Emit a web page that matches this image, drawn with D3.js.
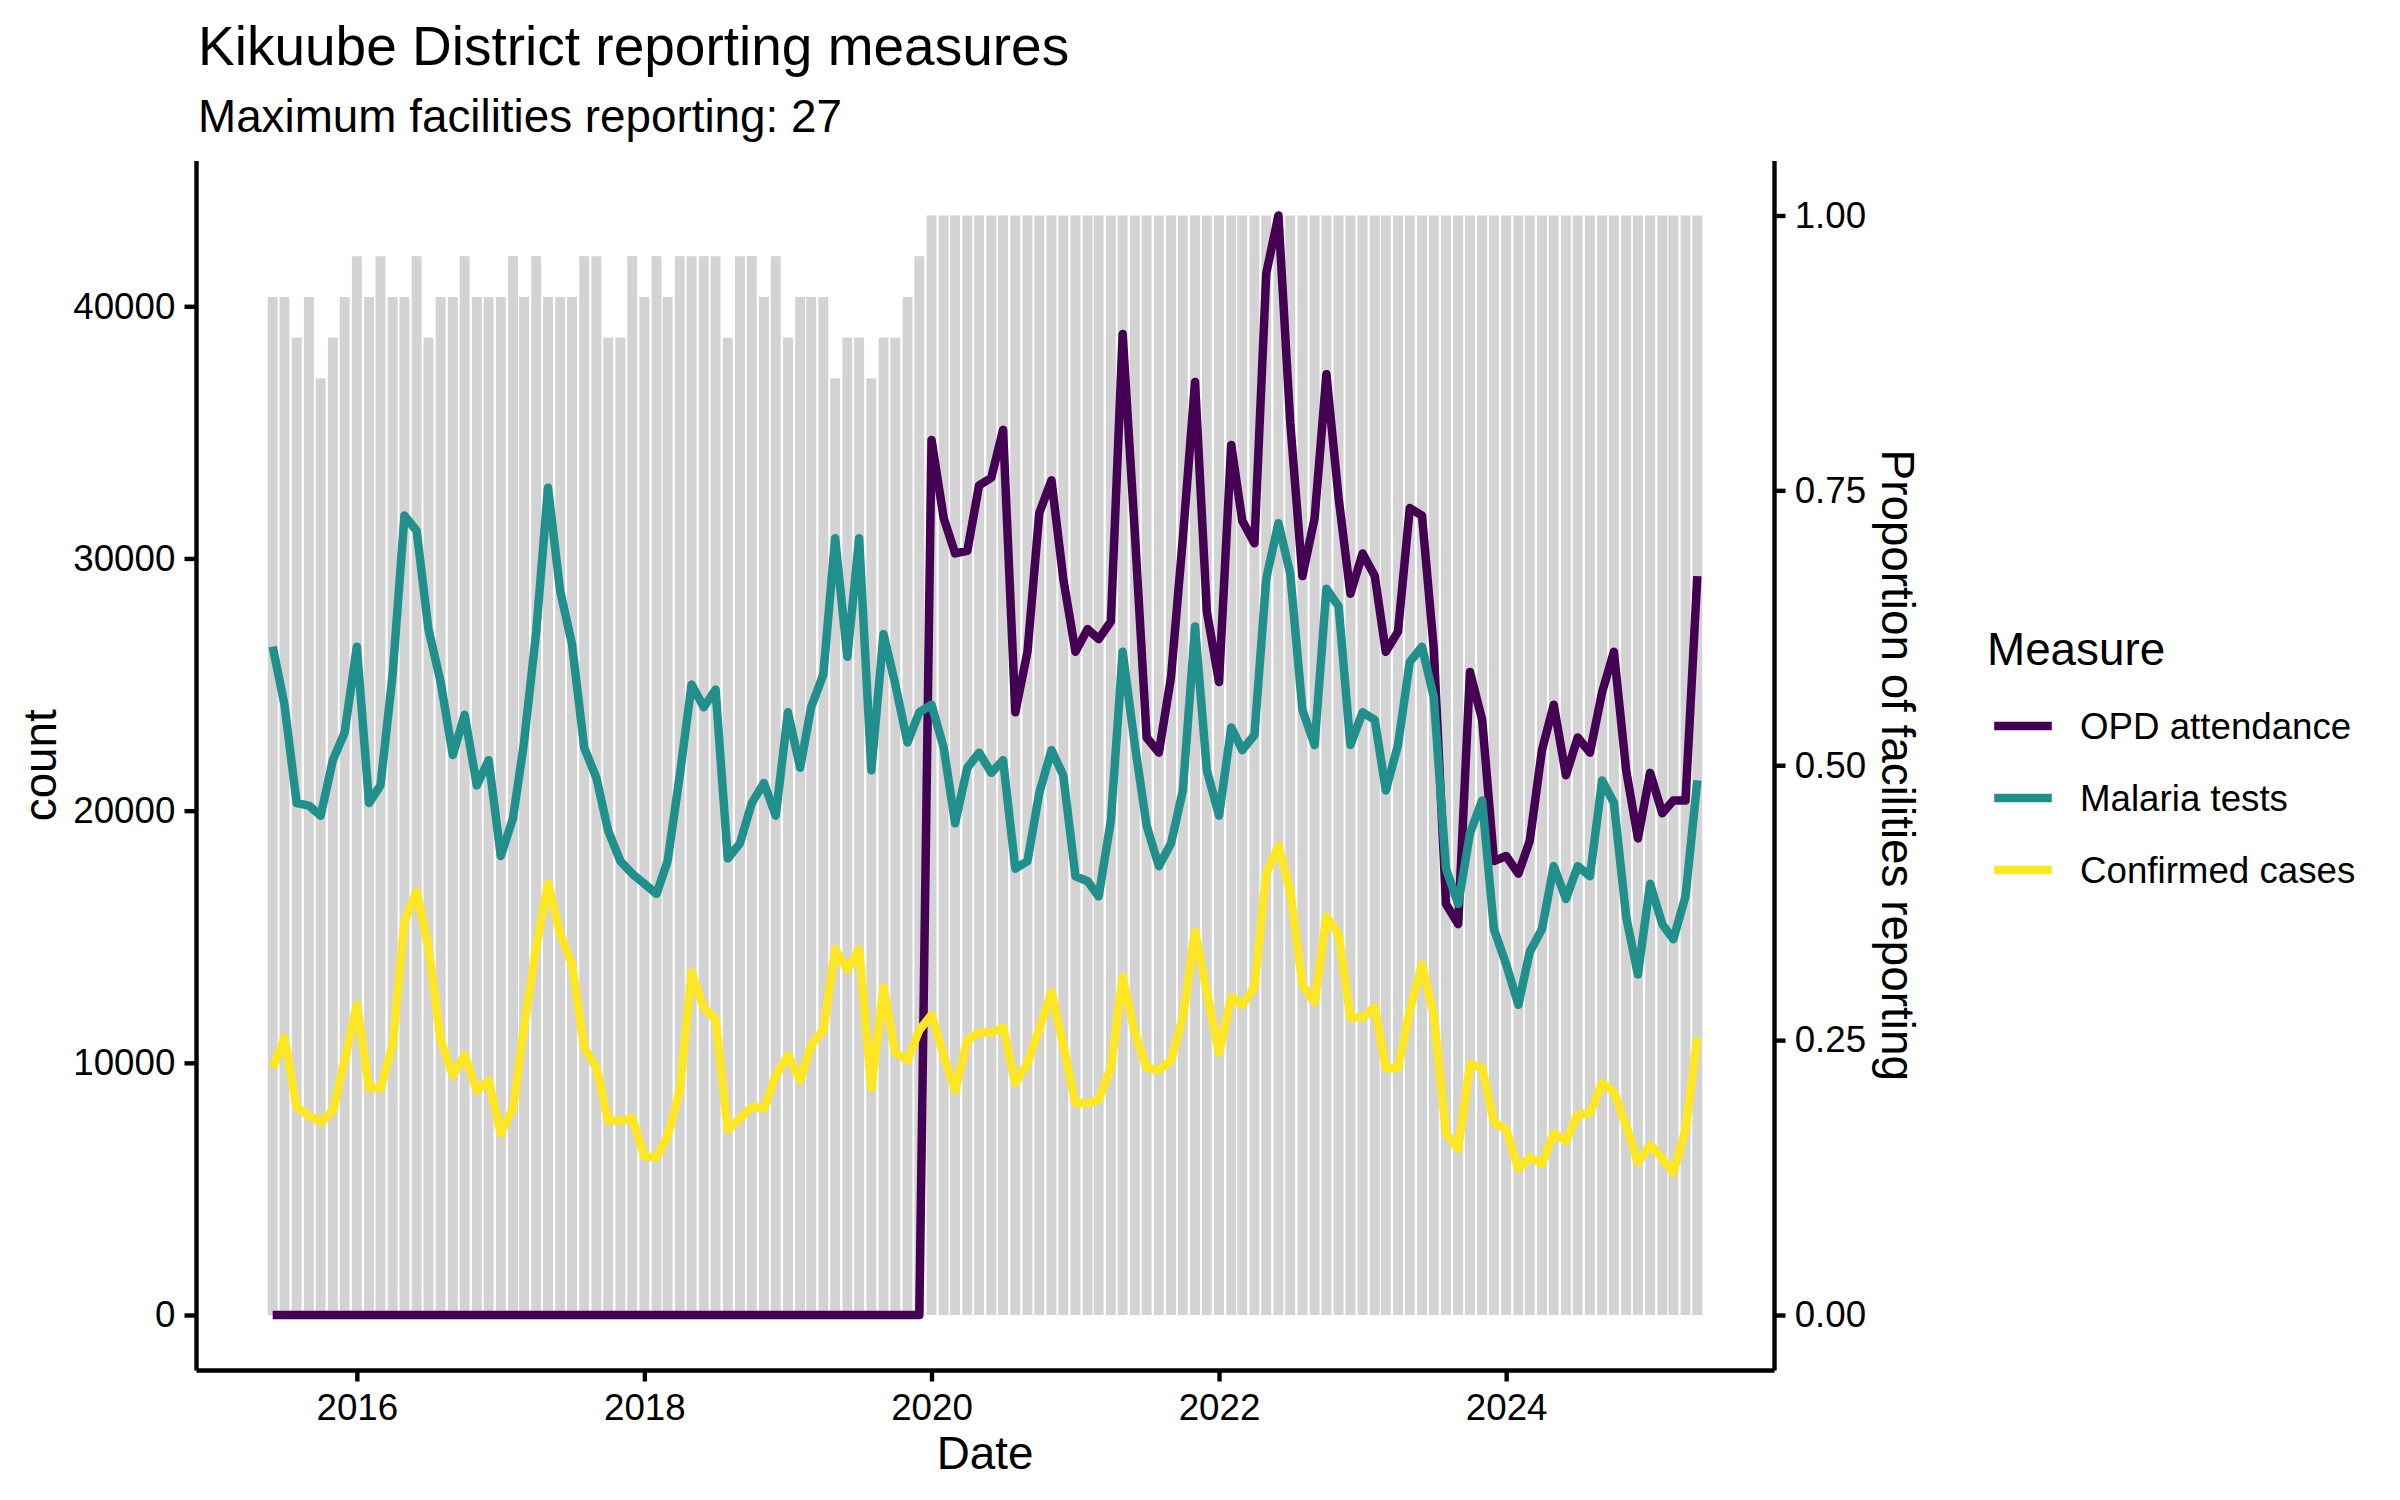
<!DOCTYPE html>
<html>
<head>
<meta charset="utf-8">
<script src="https://cdn.jsdelivr.net/npm/d3@7"></script>
<style>
  body { margin: 0; background: #fff; }
  svg { display: block; font-family: "Liberation Sans", Arial, Helvetica, sans-serif; }
</style>
</head>
<body>
<svg id="chart" width="2400" height="1500"></svg>
<script>
// monthly values, first month June 2015
const firstMonth = "2015-06";
const maxFacilities = 27;

const facilitiesReporting = [
  25, 25, 24, 25, 23, 24, 25, 26, 25, 26, 25, 25, 26, 24, 25, 25, 26, 25, 25, 25,
  26, 25, 26, 25, 25, 25, 26, 26, 24, 24, 26, 25, 26, 25, 26, 26, 26, 26, 24, 26,
  26, 25, 26, 24, 25, 25, 25, 23, 24, 24, 23, 24, 24, 25, 26, 27, 27, 27, 27, 27,
  27, 27, 27, 27, 27, 27, 27, 27, 27, 27, 27, 27, 27, 27, 27, 27, 27, 27, 27, 27,
  27, 27, 27, 27, 27, 27, 27, 27, 27, 27, 27, 27, 27, 27, 27, 27, 27, 27, 27, 27,
  27, 27, 27, 27, 27, 27, 27, 27, 27, 27, 27, 27, 27, 27, 27, 27, 27, 27, 27, 27
];

const opdAttendance = [
  0, 0, 0, 0, 0, 0, 0, 0, 0, 0, 0, 0, 0, 0, 0, 0, 0, 0, 0, 0,
  0, 0, 0, 0, 0, 0, 0, 0, 0, 0, 0, 0, 0, 0, 0, 0, 0, 0, 0, 0,
  0, 0, 0, 0, 0, 0, 0, 0, 0, 0, 0, 0, 0, 0, 0,
  34700, 31600, 30200, 30300, 32900, 33200, 35100, 23900, 26300, 31800,
  33100, 29200, 26300, 27200, 26800, 27500, 38900, 31000, 22900, 22300,
  25300, 30800, 37000, 27900, 25100, 34500, 31500, 30600, 41300, 43600,
  35400, 29300, 31600, 37300, 32400, 28600, 30200, 29300, 26300, 27100,
  32000, 31700, 26400, 16300, 15500, 25500, 23600, 18000, 18200, 17500,
  18800, 22400, 24200, 21400, 22900, 22300, 24700, 26300, 21600, 18900,
  21500, 19900, 20400, 20400, 29300
];

const malariaTests = [
  26500, 24200, 20300, 20200, 19800, 22000, 23100, 26500, 20300, 21000,
  25400, 31700, 31100, 27200, 25100, 22200, 23800, 21000, 22000, 18200,
  19700, 22700, 27100, 32800, 28700, 26600, 22500, 21300, 19200, 18000,
  17500, 17100, 16700, 18000, 21400, 25000, 24100, 24800, 18100, 18700,
  20300, 21100, 19800, 23900, 21700, 24100, 25400, 30800, 26100, 30800,
  21600, 27000, 25000, 22700, 23900, 24200, 22500, 19500, 21700, 22300,
  21500, 22000, 17700, 18000, 20700, 22400, 21400, 17400, 17200, 16600,
  19600, 26300, 22600, 19400, 17800, 18700, 20800, 27300, 21600, 19800,
  23300, 22400, 23000, 29200, 31400, 29400, 24000, 22600, 28800, 28100,
  22600, 23900, 23600, 20800, 22600, 25900, 26500, 24500, 17700, 16300,
  19100, 20400, 15300, 13900, 12300, 14400, 15300, 17800, 16500, 17800,
  17400, 21200, 20300, 15800, 13500, 17100, 15500, 14900, 16600, 21200
];

const confirmedCases = [
  9800, 11000, 8250, 7900, 7650, 8100, 10100, 12300, 9000, 9000,
  10700, 15600, 16800, 14600, 10900, 9500, 10300, 8900, 9300, 7200,
  8200, 11400, 14600, 17100, 15100, 13900, 10600, 9800, 7700, 7700,
  7800, 6300, 6250, 7100, 8900, 13600, 12200, 11700, 7350, 7800,
  8250, 8200, 9500, 10300, 9300, 10700, 11300, 14500, 13700, 14500,
  9000, 13000, 10400, 10100, 11300, 11900, 10300, 8900, 10900, 11200,
  11200, 11400, 9200, 10000, 11350, 12800, 10700, 8400, 8400, 8550,
  9800, 13400, 11200, 9800, 9700, 10100, 11800, 15200, 12800, 10400,
  12600, 12300, 13000, 17500, 18600, 16800, 13100, 12400, 15800, 15100,
  11800, 11800, 12200, 9800, 9800, 12100, 13900, 11900, 7200, 6600,
  9950, 9800, 7650, 7350, 5800, 6250, 6000, 7200, 6900, 7950,
  8000, 9200, 8850, 7500, 6050, 6750, 6200, 5650, 7350, 11000
];

const measures = ["OPD attendance", "Malaria tests", "Confirmed cases"];
const measureColours = ["#440154", "#21908C", "#FDE725"];
const countTicks = [0, 10000, 20000, 30000, 40000];
const proportionTicks = [0, 0.25, 0.5, 0.75, 1];
const yearTicks = [2016, 2018, 2020, 2022, 2024];

const series = [opdAttendance, malariaTests, confirmedCases];

const svg = d3.select("#chart");
const font = "'Liberation Sans', Arial, Helvetica, sans-serif";

// panel box (px)
const panel = { left: 196, right: 1774, top: 160.5, bottom: 1370 };
const lineW = 4.4;

const start = d3.utcParse("%Y-%m")(firstMonth);
const months = d3.utcMonth.range(start, d3.utcMonth.offset(start, opdAttendance.length));

// bars are 0.9 * 28 days wide, scale expanded by 5% each side like ggplot
const halfBar = 12.6 * 864e5;
const lo = +months[0] - halfBar;
const hi = +months[months.length - 1] + halfBar;
const pad = (hi - lo) * 0.05;
const x = d3.scaleUtc()
  .domain([new Date(lo - pad), new Date(hi + pad)])
  .range([panel.left, panel.right]);

const maxCount = d3.max(series.flat());
const y = d3.scaleLinear()
  .domain([-0.05 * maxCount, 1.05 * maxCount])
  .range([panel.bottom, panel.top]);
const yProp = d3.scaleLinear()
  .domain(y.domain().map(v => v / maxCount))
  .range(y.range());

// facility bars
const barW = x(new Date(+months[0] + halfBar)) - x(months[0]);
svg.append("g")
  .selectAll("rect")
  .data(months)
  .join("rect")
  .attr("x", d => x(d) - barW)
  .attr("width", barW * 2)
  .attr("y", (d, i) => y(facilitiesReporting[i] / maxFacilities * maxCount))
  .attr("height", (d, i) => y(0) - y(facilitiesReporting[i] / maxFacilities * maxCount))
  .attr("fill", "#D3D3D3");

// measure lines
const line = d3.line()
  .x((d, i) => x(months[i]))
  .y(d => y(d));

svg.append("g")
  .selectAll("path")
  .data(series)
  .join("path")
  .attr("d", d => line(d))
  .attr("fill", "none")
  .attr("stroke", (d, i) => measureColours[i])
  .attr("stroke-width", 8.5)
  .attr("stroke-linejoin", "round")
  .attr("stroke-linecap", "butt");

// axes
const styleAxis = g => {
  g.selectAll("path, line").attr("stroke", "#000").attr("stroke-width", lineW);
  g.selectAll("text").attr("font-size", 36.7).attr("font-family", font).attr("fill", "#000");
};

svg.append("g")
  .attr("transform", `translate(${panel.left},0)`)
  .call(d3.axisLeft(y).tickValues(countTicks).tickFormat(d3.format("d"))
    .tickSize(11.5).tickSizeOuter(0).tickPadding(9.2))
  .call(styleAxis);

svg.append("g")
  .attr("transform", `translate(${panel.right},0)`)
  .call(d3.axisRight(yProp).tickValues(proportionTicks).tickFormat(d3.format(".2f"))
    .tickSize(11.5).tickSizeOuter(0).tickPadding(9.2))
  .call(styleAxis);

svg.append("g")
  .attr("transform", `translate(0,${panel.bottom})`)
  .call(d3.axisBottom(x).tickValues(yearTicks.map(yr => new Date(Date.UTC(yr, 0, 1))))
    .tickFormat(d3.utcFormat("%Y")).tickSize(11.5).tickSizeOuter(0).tickPadding(12))
  .call(styleAxis);

// titles
const addText = (txt, px, py, size, anchor, rotate) => {
  const t = svg.append("text")
    .attr("font-family", font)
    .attr("font-size", size)
    .attr("fill", "#000")
    .attr("text-anchor", anchor)
    .text(txt);
  if (rotate) t.attr("transform", `translate(${px},${py}) rotate(${rotate})`);
  else t.attr("x", px).attr("y", py);
  return t;
};

addText("Kikuube District reporting measures", panel.left + 2, 65, 55, "start");
addText("Maximum facilities reporting: " + maxFacilities, panel.left + 2, 132, 45.8, "start");
addText("Date", (panel.left + panel.right) / 2, 1469, 45.8, "middle");
addText("count", 56, (panel.top + panel.bottom) / 2, 45.8, "middle", -90);
addText("Proportion of facilities reporting", 1882, (panel.top + panel.bottom) / 2, 45.8, "middle", 90);

// legend
const legend = svg.append("g").attr("transform", "translate(1987,0)");
legend.append("text")
  .attr("x", 0).attr("y", 665)
  .attr("font-family", font).attr("font-size", 45.8).attr("fill", "#000")
  .text("Measure");

const rows = legend.selectAll(".key")
  .data(measures)
  .join("g")
  .attr("class", "key")
  .attr("transform", (d, i) => `translate(0,${726 + i * 72})`);

rows.append("line")
  .attr("x1", 7.2).attr("x2", 64.8)
  .attr("stroke", (d, i) => measureColours[i])
  .attr("stroke-width", 8.5);

rows.append("text")
  .attr("x", 93)
  .attr("dy", "0.36em")
  .attr("font-family", font).attr("font-size", 36.7).attr("fill", "#000")
  .text(d => d);
</script>
</body>
</html>
